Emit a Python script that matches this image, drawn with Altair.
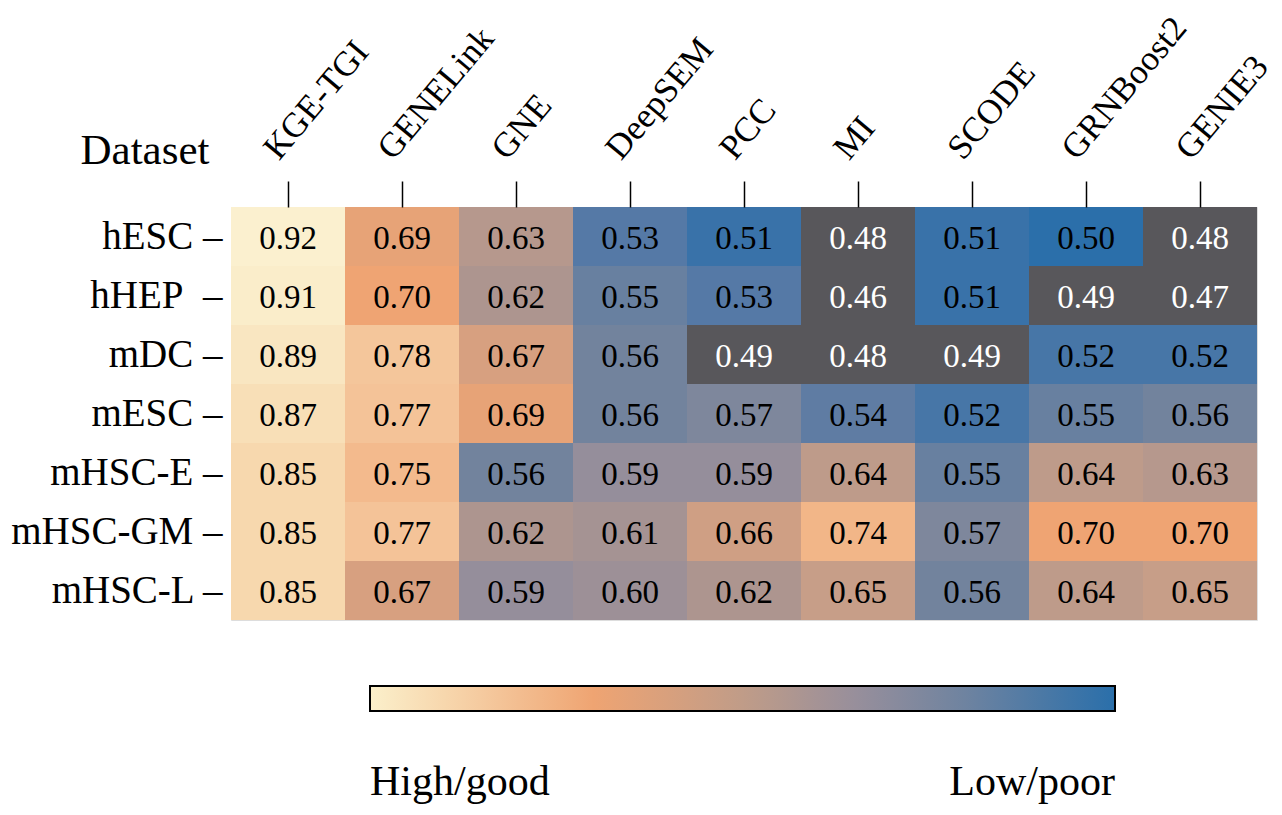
import altair as alt
import pandas as pd

methods = ["KGE-TGI", "GENELink", "GNE", "DeepSEM", "PCC", "MI", "SCODE", "GRNBoost2", "GENIE3"]
datasets = ["hESC –", "hHEP\u00a0\u00a0–", "mDC –", "mESC –", "mHSC-E –", "mHSC-GM –", "mHSC-L –"]

hESC = [0.92, 0.69, 0.63, 0.53, 0.51, 0.48, 0.51, 0.50, 0.48]
hHEP = [0.91, 0.70, 0.62, 0.55, 0.53, 0.46, 0.51, 0.49, 0.47]
mDC = [0.89, 0.78, 0.67, 0.56, 0.49, 0.48, 0.49, 0.52, 0.52]
mESC = [0.87, 0.77, 0.69, 0.56, 0.57, 0.54, 0.52, 0.55, 0.56]
mHSC_E = [0.85, 0.75, 0.56, 0.59, 0.59, 0.64, 0.55, 0.64, 0.63]
mHSC_GM = [0.85, 0.77, 0.62, 0.61, 0.66, 0.74, 0.57, 0.70, 0.70]
mHSC_L = [0.85, 0.67, 0.59, 0.60, 0.62, 0.65, 0.56, 0.64, 0.65]
rows_values = [hESC, hHEP, mDC, mESC, mHSC_E, mHSC_GM, mHSC_L]

# cell colour scale (piecewise)
cell_stops = [0.50, 0.53, 0.56, 0.59, 0.62, 0.65, 0.70, 0.77, 0.85, 0.92]
cell_colors = ["#2B6FAA", "#5579A6", "#72839D", "#958E9B", "#AD958F",
               "#C79E88", "#EFA473", "#F4C398", "#F7D8AE", "#FBF0CF"]
low_color = "#58575B"

# decorative colour bar
bar_pos = [0.0, 0.3, 0.5, 0.65, 0.8, 1.0]
bar_colors = ["#FBF0CB", "#EFA472", "#C09C88", "#988F9B", "#6E83A0", "#2A6FAA"]
bar_labels = ["High/good", "Low/poor"]

records = []
for ds, vals in zip(datasets, rows_values):
    for m, v in zip(methods, vals):
        records.append({"dataset": ds, "method": m, "value": v})
df = pd.DataFrame(records)
bar_df = pd.DataFrame({"pos": bar_pos})

FONT = "Liberation Serif"

base = alt.Chart(df).encode(
    x=alt.X("method:N", sort=methods,
            axis=alt.Axis(orient="top", title=None, labelAngle=310, labelAlign="left",
                          labelBaseline="alphabetic", labelFont=FONT, labelFontSize=35,
                          labelColor="black", tickSize=26, tickColor="black", tickWidth=1.5,
                          domain=False, labelPadding=20, labelOffset=-9, labelLimit=500)),
    y=alt.Y("dataset:N", sort=datasets,
            axis=alt.Axis(title="Dataset", titleAngle=0, titleAlign="left",
                          titleBaseline="alphabetic", titleX=-151, titleY=-44,
                          titleFont=FONT, titleFontSize=43, titleFontWeight="normal",
                          titleColor="black", labelFont=FONT, labelFontSize=39,
                          labelColor="black", ticks=False, domain=False, labelPadding=9,
                          labelLimit=500)),
)

rect = base.mark_rect().encode(
    color=alt.condition(alt.datum.value < 0.5, alt.value(low_color),
                        alt.Color("value:Q",
                                  scale=alt.Scale(domain=cell_stops, range=cell_colors,
                                                  interpolate="rgb"),
                                  legend=None))
)

text = base.mark_text(font=FONT, fontSize=33, baseline="middle", dy=2).encode(
    text=alt.Text("value:Q", format=".2f"),
    color=alt.condition(alt.datum.value < 0.5, alt.value("white"), alt.value("black")),
)

legend_layer = alt.Chart(bar_df).mark_point(opacity=0, size=0).encode(
    color=alt.Color("pos:Q",
                    scale=alt.Scale(domain=bar_pos, range=bar_colors, interpolate="rgb"),
                    legend=alt.Legend(orient="none", legendX=139, legendY=479,
                                      direction="horizontal", title=None,
                                      gradientLength=745, gradientThickness=25,
                                      gradientStrokeColor="black", gradientStrokeWidth=2,
                                      values=[0, 1],
                                      labelExpr=f"datum.value < 0.5 ? '{bar_labels[0]}' : '{bar_labels[1]}'",
                                      labelFont=FONT, labelFontSize=42, labelColor="black",
                                      labelOffset=51, labelLimit=500))
)

chart = alt.layer(rect, text, legend_layer).resolve_scale(color="independent").properties(
    width=1026, height=413,
    padding={"left": 223, "top": 199, "right": 17, "bottom": 185},
    autosize=alt.AutoSizeParams(type="none"),
).configure_view(stroke=None).configure(background="white")

chart.save("out.html", embed_options={"renderer": "svg", "actions": False})
